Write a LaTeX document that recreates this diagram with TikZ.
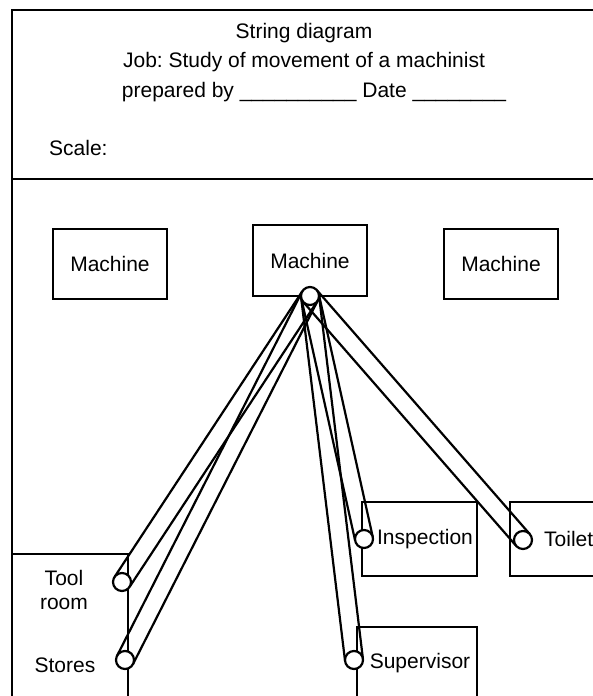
\documentclass[tikz,border=0pt]{standalone}
\usepackage{fontspec}
\setmainfont{Liberation Sans}
\usetikzlibrary{calc,backgrounds}
\frenchspacing
\tikzset{
  every node/.style={font=\fontsize{21}{24}\selectfont, inner sep=0pt},
  place/.style={draw, line width=2.3pt, minimum width=#1, minimum height=70pt},
  place/.default=114pt,
  pin/.style={circle, draw, fill=white, line width=2.2pt, minimum size=18pt},
  band/.style={line width=2.2pt},
}
\begin{document}
\begin{tikzpicture}[x=1pt,y=-1pt]
\useasboundingbox (0,0) rectangle (593,696);
\clip (0,0) rectangle (593,696);
% frame and title block
\draw[line width=2.8pt] (12,740) -- (12,10) -- (640,10);
\draw[line width=2.8pt] (12,179) -- (640,179);
\node (title) at (304,33) {String diagram};
\node (job) at (304,62) {Job: Study of movement of a machinist};
\node (prep) at (314,92) {prepared by \_\_\_\_\_\_\_\_\_\_ Date \_\_\_\_\_\_\_\_};
\node[anchor=west] (scale) at (49,148) {Scale:};
% machines
\node[place] (mach1) at (110,264) {Machine};
\node[place, minimum height=71pt] (mach2) at (310,260.5) {Machine};
\node[place] (mach3) at (501,264) {Machine};
% other places
\node[place=116pt, minimum height=166pt] (toolbox) at (70,637) {};
\node[place=115pt, minimum height=74pt] (inspbox) at (419.5,539) {};
\node[place=115pt, minimum height=74pt] (toiletbox) at (567.5,539) {};
\node[place=120pt, minimum height=133pt] (superbox) at (417,693.5) {};
\node[align=center] (tooltext) at (64,590) {Tool\\room};
\node (storestext) at (65,665) {Stores};
\node (insptext) at (425,539) {Inspection};
\node[anchor=west] (toilettext) at (544,539) {Toilet};
\node (supertext) at (420,663) {Supervisor};
% pins
\node[pin] (m) at (310,296) {};
\node[pin] (tool) at (122,582) {};
\node[pin] (stores) at (125,660) {};
\node[pin] (insp) at (364,539) {};
\node[pin] (super) at (354,660) {};
\node[pin] (toilet) at (523,540) {};
% strings
\begin{pgfonlayer}{background}
\foreach \d in {tool,stores,insp,super,toilet}{
  \draw[band] ($(m.center)!9pt!90:(\d.center)$) -- ($(\d.center)!9pt!-90:(m.center)$);
  \draw[band] ($(m.center)!9pt!-90:(\d.center)$) -- ($(\d.center)!9pt!90:(m.center)$);
}
\end{pgfonlayer}
\end{tikzpicture}
\end{document}
